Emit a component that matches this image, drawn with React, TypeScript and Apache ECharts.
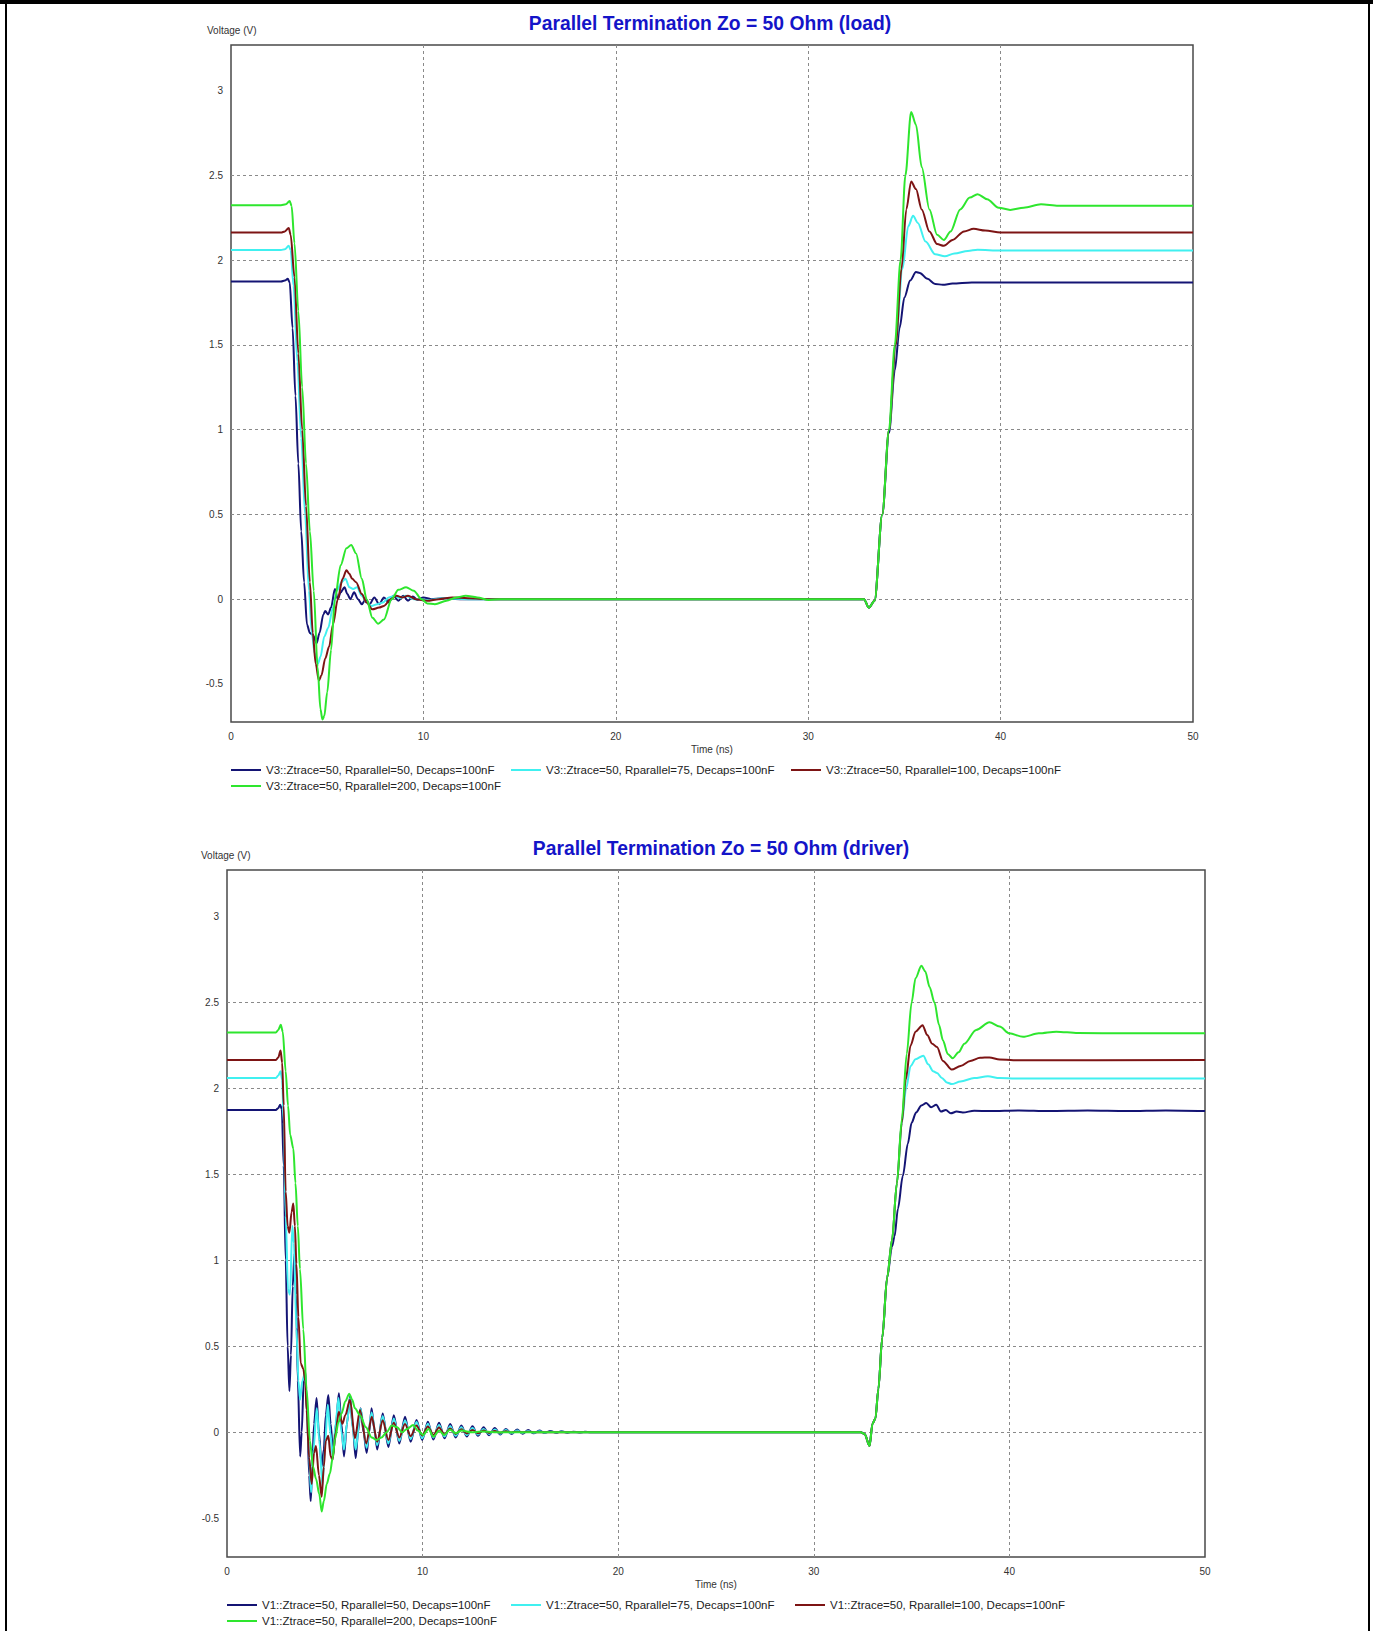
import { useEffect, useRef } from "react";
import * as echarts from "echarts";

// ---------- labels ----------
const TITLE_LOAD = "Parallel Termination Zo = 50 Ohm (load)";
const TITLE_DRIVER = "Parallel Termination Zo = 50 Ohm (driver)";
const Y_NAME = "Voltage (V)";
const X_NAME = "Time (ns)";
const Y_TICKS = [-0.5, 0, 0.5, 1, 1.5, 2, 2.5, 3];
const X_MIN = 0;
const X_MAX = 50;
const X_STEP = 10;
const Y_MIN = -0.725;
const Y_MAX = 3.27;

const LOAD_NAMES = [
  "V3::Ztrace=50, Rparallel=50, Decaps=100nF",
  "V3::Ztrace=50, Rparallel=75, Decaps=100nF",
  "V3::Ztrace=50, Rparallel=100, Decaps=100nF",
  "V3::Ztrace=50, Rparallel=200, Decaps=100nF",
];
const DRIVER_NAMES = [
  "V1::Ztrace=50, Rparallel=50, Decaps=100nF",
  "V1::Ztrace=50, Rparallel=75, Decaps=100nF",
  "V1::Ztrace=50, Rparallel=100, Decaps=100nF",
  "V1::Ztrace=50, Rparallel=200, Decaps=100nF",
];

// ---------- data: [time ns, volts] ----------
const LOAD_R50: [number, number][] = [
  [0, 1.874], [2.6, 1.874], [2.8, 1.88], [2.95, 1.89], [3.05, 1.87], [3.2, 1.6], [3.35, 1.2], [3.5, 0.8],
  [3.65, 0.4], [3.8, 0.1], [3.95, -0.15], [4.1, -0.2], [4.25, -0.21], [4.45, -0.26], [4.6, -0.2], [4.8, -0.09],
  [4.9, -0.07], [5.05, -0.09], [5.2, -0.05], [5.4, 0.06], [5.55, 0.0], [5.7, 0.04], [5.9, 0.07], [6.05, 0.03],
  [6.2, 0.0], [6.4, 0.04], [6.6, 0.0], [6.8, -0.03], [7.0, 0.0], [7.2, -0.03], [7.45, 0.01], [7.7, -0.03],
  [7.95, 0.01], [8.2, -0.02], [8.45, 0.02], [8.7, -0.01], [8.95, 0.02], [9.2, -0.01], [9.45, 0.015], [9.7, -0.005],
  [10.0, 0.01], [10.4, 0.0], [11.0, 0.005], [12.0, 0.0], [32.9, 0.0], [33.15, -0.05], [33.45, -0.01], [33.85, 0.5],
  [34.2, 0.98], [34.5, 1.35], [34.75, 1.6], [35.0, 1.78], [35.3, 1.88], [35.6, 1.93], [35.8, 1.925], [36.2, 1.89],
  [36.6, 1.86], [37.0, 1.855], [37.5, 1.862], [38.5, 1.868], [50, 1.868],
];
const LOAD_R75: [number, number][] = [
  [0, 2.06], [2.6, 2.06], [2.8, 2.065], [3.0, 2.085], [3.1, 2.06], [3.25, 1.85], [3.45, 1.4], [3.65, 0.95],
  [3.85, 0.5], [4.05, 0.05], [4.2, -0.2], [4.35, -0.32], [4.52, -0.38], [4.65, -0.34], [4.85, -0.22], [5.05, -0.17],
  [5.3, -0.05], [5.5, 0.05], [5.75, 0.1], [5.95, 0.12], [6.15, 0.07], [6.35, 0.06], [6.55, 0.07], [6.8, 0.02],
  [7.05, -0.02], [7.3, -0.04], [7.6, -0.03], [7.9, -0.02], [8.2, 0.01], [8.5, 0.02], [8.8, 0.005], [9.1, 0.02],
  [9.5, 0.0], [10.2, -0.005], [11.0, 0.005], [12.5, 0.0], [32.9, 0.0], [33.15, -0.05], [33.45, -0.01], [33.85, 0.5],
  [34.2, 1.0], [34.55, 1.5], [34.9, 1.95], [35.2, 2.2], [35.45, 2.262], [35.7, 2.22], [36.1, 2.11], [36.6, 2.035],
  [37.1, 2.023], [37.6, 2.04], [38.3, 2.055], [38.8, 2.062], [40.0, 2.057], [50, 2.057],
];
const LOAD_R100: [number, number][] = [
  [0, 2.163], [2.6, 2.163], [2.8, 2.17], [3.0, 2.19], [3.1, 2.15], [3.3, 1.9], [3.5, 1.45], [3.7, 1.0],
  [3.9, 0.55], [4.1, 0.1], [4.25, -0.2], [4.4, -0.38], [4.57, -0.48], [4.7, -0.45], [4.9, -0.35], [5.1, -0.28],
  [5.3, -0.15], [5.55, 0.0], [5.8, 0.12], [6.0, 0.17], [6.15, 0.15], [6.3, 0.12], [6.5, 0.1], [6.8, 0.03],
  [7.05, -0.02], [7.35, -0.06], [7.7, -0.05], [7.95, -0.04], [8.3, 0.0], [8.6, 0.02], [8.9, 0.01], [9.2, 0.02],
  [9.6, 0.0], [10.2, -0.01], [10.8, 0.0], [11.5, 0.01], [12.3, 0.005], [13.5, 0.0], [32.9, 0.0], [33.15, -0.05],
  [33.45, -0.01], [33.85, 0.5], [34.2, 1.0], [34.55, 1.5], [34.85, 1.95], [35.1, 2.3], [35.35, 2.465], [35.6, 2.42],
  [35.9, 2.3], [36.3, 2.17], [36.7, 2.095], [37.05, 2.085], [37.5, 2.12], [38.1, 2.17], [38.6, 2.185], [39.2, 2.175],
  [40.0, 2.163], [50, 2.163],
];
const LOAD_R200: [number, number][] = [
  [0, 2.325], [2.6, 2.325], [2.85, 2.33], [3.05, 2.35], [3.15, 2.32], [3.3, 2.1], [3.5, 1.7], [3.7, 1.25],
  [3.9, 0.8], [4.1, 0.4], [4.3, 0.05], [4.5, -0.4], [4.65, -0.65], [4.75, -0.71], [4.85, -0.69], [5.0, -0.55],
  [5.2, -0.3], [5.4, 0.0], [5.7, 0.2], [6.0, 0.3], [6.25, 0.32], [6.5, 0.27], [6.8, 0.12], [7.05, 0.0],
  [7.35, -0.11], [7.65, -0.145], [7.95, -0.12], [8.35, 0.0], [8.7, 0.055], [9.1, 0.07], [9.5, 0.05], [9.9, 0.0],
  [10.2, -0.025], [10.6, -0.03], [11.2, -0.01], [11.7, 0.01], [12.2, 0.02], [12.8, 0.01], [13.4, -0.005], [14.0, 0.0],
  [32.9, 0.0], [33.15, -0.05], [33.45, -0.01], [33.85, 0.5], [34.2, 1.0], [34.5, 1.5], [34.8, 2.0], [35.05, 2.5],
  [35.35, 2.875], [35.6, 2.8], [35.9, 2.55], [36.3, 2.3], [36.7, 2.15], [37.05, 2.12], [37.4, 2.17], [37.9, 2.3],
  [38.4, 2.37], [38.8, 2.39], [39.3, 2.36], [39.9, 2.31], [40.5, 2.297], [41.2, 2.31], [42.1, 2.33], [43.0, 2.322],
  [50, 2.322],
];

const DRIVER_R50: [number, number][] = [
  [0, 1.875], [2.5, 1.875], [2.62, 1.885], [2.72, 1.905], [2.8, 1.88], [2.9, 1.55], [3.0, 1.0], [3.1, 0.5],
  [3.19, 0.24], [3.27, 0.45], [3.36, 0.85], [3.45, 1.04], [3.53, 0.8], [3.62, 0.3], [3.74, -0.14], [3.82, 0.0],
  [3.92, 0.3], [4.0, 0.36], [4.1, 0.1], [4.2, -0.25], [4.28, -0.4], [4.36, -0.2], [4.45, 0.05], [4.58, 0.2],
  [4.7, 0.0], [4.84, -0.2], [4.95, -0.1], [5.05, 0.1], [5.18, 0.217], [5.3, 0.05], [5.43, -0.13], [5.57, 0.05],
  [5.72, 0.227], [5.85, 0.05], [5.98, -0.14], [6.13, 0.05], [6.29, 0.21], [6.43, 0.03], [6.58, -0.15], [6.7, 0.0],
  [6.83, 0.14], [6.98, 0.0], [7.14, -0.12], [7.27, 0.0], [7.39, 0.14], [7.53, 0.02], [7.68, -0.1], [7.96, 0.11],
  [8.25, -0.085], [8.53, 0.1], [8.81, -0.065], [9.1, 0.09], [9.39, -0.055], [9.69, 0.072], [9.98, -0.045], [10.27, 0.062],
  [10.55, -0.042], [10.84, 0.055], [11.12, -0.035], [11.41, 0.048], [11.69, -0.03], [11.98, 0.04], [12.26, -0.025], [12.55, 0.035],
  [12.83, -0.02], [13.12, 0.03], [13.4, -0.017], [13.69, 0.025], [13.97, -0.013], [14.26, 0.02], [14.54, -0.01], [14.83, 0.016],
  [15.11, -0.008], [15.4, 0.013], [15.68, -0.006], [15.97, 0.01], [16.25, -0.004], [16.54, 0.008], [16.82, -0.003], [17.1, 0.006],
  [17.4, -0.002], [17.7, 0.004], [18.0, -0.001], [18.3, 0.003], [18.6, 0.0], [32.4, 0.0], [32.6, -0.01], [32.85, -0.08],
  [33.0, 0.05], [33.15, 0.08], [33.3, 0.25], [33.5, 0.55], [33.75, 0.9], [34.0, 1.08], [34.13, 1.14], [34.3, 1.3],
  [34.55, 1.49], [34.81, 1.68], [35.0, 1.8], [35.23, 1.86], [35.5, 1.9], [35.75, 1.915], [36.0, 1.89], [36.26, 1.905],
  [36.5, 1.865], [36.75, 1.875], [37.0, 1.855], [37.3, 1.865], [37.62, 1.86], [38.2, 1.87], [39.0, 1.868], [40.5, 1.872],
  [42.0, 1.868], [44.0, 1.871], [46.0, 1.868], [48.0, 1.872], [50, 1.869],
];
const DRIVER_R75: [number, number][] = [
  [0, 2.06], [2.5, 2.06], [2.62, 2.075], [2.74, 2.1], [2.82, 2.05], [2.9, 1.8], [3.0, 1.26], [3.12, 0.83],
  [3.22, 0.8], [3.34, 1.2], [3.42, 1.1], [3.55, 0.6], [3.65, 0.3], [3.74, 0.19], [3.85, 0.3], [4.0, 0.35],
  [4.1, 0.1], [4.2, -0.15], [4.3, -0.35], [4.42, -0.1], [4.59, 0.14], [4.72, -0.05], [4.88, -0.31], [5.0, -0.1],
  [5.15, 0.16], [5.28, 0.0], [5.41, -0.15], [5.55, 0.05], [5.7, 0.2], [5.85, 0.0], [5.98, -0.1], [6.13, 0.05],
  [6.29, 0.2], [6.43, 0.02], [6.58, -0.1], [6.83, 0.135], [7.14, -0.09], [7.39, 0.115], [7.68, -0.075], [7.96, 0.095],
  [8.25, -0.065], [8.53, 0.08], [8.81, -0.05], [9.1, 0.07], [9.39, -0.04], [9.69, 0.06], [9.98, -0.035], [10.27, 0.05],
  [10.55, -0.03], [10.84, 0.042], [11.12, -0.025], [11.41, 0.035], [11.69, -0.02], [11.98, 0.03], [12.26, -0.016], [12.55, 0.025],
  [12.83, -0.013], [13.12, 0.02], [13.4, -0.01], [13.69, 0.016], [13.97, -0.008], [14.26, 0.013], [14.54, -0.006], [14.83, 0.01],
  [15.11, -0.004], [15.4, 0.008], [15.68, -0.003], [15.97, 0.006], [16.25, -0.002], [16.54, 0.004], [16.82, 0.0], [17.1, 0.003],
  [17.4, 0.0], [32.4, 0.0], [32.6, -0.01], [32.85, -0.08], [33.0, 0.05], [33.15, 0.08], [33.3, 0.25], [33.5, 0.55],
  [33.75, 0.9], [34.0, 1.12], [34.25, 1.45], [34.5, 1.8], [34.72, 2.0], [34.95, 2.13], [35.2, 2.17], [35.6, 2.19],
  [35.85, 2.14], [36.1, 2.1], [36.3, 2.09], [36.55, 2.06], [36.8, 2.035], [37.05, 2.025], [37.5, 2.04], [38.2, 2.06],
  [38.9, 2.07], [39.5, 2.06], [40.3, 2.058], [50, 2.058],
];
const DRIVER_R100: [number, number][] = [
  [0, 2.165], [2.5, 2.165], [2.62, 2.18], [2.74, 2.22], [2.82, 2.15], [2.9, 1.9], [3.0, 1.4], [3.1, 1.2],
  [3.19, 1.16], [3.3, 1.28], [3.39, 1.33], [3.47, 1.2], [3.55, 0.98], [3.65, 0.67], [3.77, 0.4], [3.9, 0.37],
  [4.0, 0.3], [4.07, 0.13], [4.2, -0.15], [4.33, -0.3], [4.45, -0.12], [4.55, -0.08], [4.7, -0.25], [4.84, -0.375],
  [4.95, -0.2], [5.05, -0.05], [5.18, -0.02], [5.3, -0.14], [5.4, -0.16], [5.55, 0.0], [5.72, 0.12], [5.9, 0.05],
  [6.05, 0.1], [6.29, 0.19], [6.54, -0.035], [6.8, 0.13], [7.12, -0.065], [7.4, 0.09], [7.68, -0.055], [7.96, 0.07],
  [8.25, -0.045], [8.53, 0.055], [8.81, -0.03], [9.1, 0.048], [9.39, -0.022], [9.69, 0.04], [9.98, -0.018], [10.27, 0.034],
  [10.55, -0.015], [10.84, 0.028], [11.12, -0.012], [11.41, 0.022], [11.69, -0.01], [11.98, 0.018], [12.26, -0.007], [12.55, 0.014],
  [12.83, -0.005], [13.12, 0.011], [13.4, -0.004], [13.69, 0.008], [13.97, -0.002], [14.26, 0.006], [14.54, -0.001], [14.83, 0.004],
  [15.11, 0.0], [15.4, 0.003], [15.7, 0.0], [32.4, 0.0], [32.6, -0.01], [32.85, -0.08], [33.0, 0.05], [33.15, 0.08],
  [33.3, 0.25], [33.5, 0.55], [33.75, 0.9], [34.0, 1.12], [34.25, 1.45], [34.5, 1.8], [34.7, 2.05], [34.95, 2.25],
  [35.2, 2.33], [35.56, 2.367], [35.8, 2.31], [36.05, 2.26], [36.3, 2.24], [36.6, 2.16], [37.05, 2.11], [37.5, 2.13],
  [38.0, 2.16], [38.5, 2.178], [38.98, 2.18], [39.5, 2.168], [40.2, 2.164], [50, 2.165],
];
const DRIVER_R200: [number, number][] = [
  [0, 2.325], [2.5, 2.325], [2.62, 2.34], [2.75, 2.37], [2.85, 2.33], [3.0, 2.1], [3.12, 1.9], [3.23, 1.73],
  [3.39, 1.65], [3.5, 1.45], [3.62, 1.2], [3.73, 0.95], [3.9, 0.6], [4.07, 0.25], [4.24, -0.05], [4.4, -0.2],
  [4.55, -0.27], [4.72, -0.36], [4.84, -0.46], [4.95, -0.4], [5.1, -0.3], [5.26, -0.24], [5.4, -0.15], [5.52, -0.04],
  [5.7, 0.06], [5.86, 0.11], [6.05, 0.18], [6.25, 0.225], [6.4, 0.19], [6.54, 0.14], [6.8, 0.1], [7.1, 0.03],
  [7.4, -0.03], [7.65, -0.045], [7.9, -0.03], [8.16, 0.0], [8.42, 0.04], [8.7, 0.03], [8.95, 0.0], [9.2, 0.02],
  [9.52, 0.043], [9.75, 0.01], [10.03, -0.015], [10.3, 0.02], [10.55, -0.025], [10.85, 0.01], [11.1, -0.015], [11.4, 0.015],
  [11.7, -0.005], [12.0, 0.01], [12.5, 0.0], [13.0, 0.005], [14.0, 0.0], [32.4, 0.0], [32.6, -0.01], [32.85, -0.08],
  [33.0, 0.05], [33.15, 0.08], [33.3, 0.25], [33.5, 0.55], [33.75, 0.9], [34.0, 1.12], [34.25, 1.45], [34.5, 1.82],
  [34.75, 2.2], [35.0, 2.5], [35.2, 2.64], [35.5, 2.713], [35.7, 2.68], [35.92, 2.59], [36.17, 2.5], [36.4, 2.37],
  [36.6, 2.28], [36.85, 2.2], [37.1, 2.175], [37.4, 2.21], [37.7, 2.26], [38.3, 2.34], [38.98, 2.384], [39.5, 2.36],
  [40.0, 2.32], [40.7, 2.3], [41.5, 2.32], [42.4, 2.33], [43.5, 2.322], [46.0, 2.32], [50, 2.32],
];

const LOAD_DATA = [LOAD_R50, LOAD_R75, LOAD_R100, LOAD_R200];
const DRIVER_DATA = [DRIVER_R50, DRIVER_R75, DRIVER_R100, DRIVER_R200];

// ---------- styling ----------
const COLORS = ["#141474", "#40f0f0", "#7d1414", "#2ee62e"];
const FONT = "'Liberation Sans', Arial, sans-serif";
const W = 1373;
const H = 1631;

const GRIDS = [
  { left: 231, top: 45, width: 962, height: 677 },
  { left: 227, top: 870, width: 978, height: 687 },
];
const LEGEND_POS = [
  [[231, 764], [511, 764], [791, 764], [231, 780]],
  [[227, 1599], [511, 1599], [795, 1599], [227, 1615]],
];

export default function App() {
  const ref = useRef<HTMLDivElement>(null);

  useEffect(() => {
    document.body.style.margin = "0";
    document.body.style.overflow = "hidden";
    if (!ref.current) return;
    const chart = echarts.init(ref.current, undefined, { renderer: "svg" });

    const gridLine = { show: true, showMinLine: false, showMaxLine: false, lineStyle: { type: [3, 3] as any, color: "#8a8a8a", width: 1 } };

    const xAxes = GRIDS.map((_, i) => ({
      gridIndex: i,
      type: "value",
      min: X_MIN,
      max: X_MAX,
      interval: X_STEP,
      axisLine: { show: false },
      axisTick: { show: false },
      axisLabel: { margin: 9, fontSize: 10, color: "#333", fontFamily: FONT },
      splitLine: gridLine,
      name: X_NAME,
      nameLocation: "middle",
      nameGap: 22,
      nameTextStyle: { fontSize: 10, color: "#333", fontFamily: FONT },
    }));
    const yAxes = GRIDS.map((_, i) => ({
      gridIndex: i,
      type: "value",
      min: Y_MIN,
      max: Y_MAX,
      axisLine: { show: false },
      axisTick: { show: false, customValues: Y_TICKS },
      axisLabel: { margin: 8, fontSize: 10, color: "#333", fontFamily: FONT, customValues: Y_TICKS },
      splitLine: gridLine,
    }));

    const names = [LOAD_NAMES, DRIVER_NAMES];
    const datas = [LOAD_DATA, DRIVER_DATA];
    const series: any[] = [];
    const legends: any[] = [];
    for (let g = 0; g < 2; g++) {
      for (let k = 0; k < 4; k++) {
        series.push({
          type: "line",
          name: names[g][k],
          xAxisIndex: g,
          yAxisIndex: g,
          data: datas[g][k],
          showSymbol: false,
          smooth: 0.3,
          smoothMonotone: "x",
          lineStyle: { color: COLORS[k], width: 2 },
          itemStyle: { color: COLORS[k] },
          emphasis: { disabled: true },
        });
        legends.push({
          data: [names[g][k]],
          left: LEGEND_POS[g][k][0],
          top: LEGEND_POS[g][k][1],
          padding: 0,
          icon: "rect",
          itemWidth: 30,
          itemHeight: 2,
          selectedMode: false,
          textStyle: { fontSize: 11.5, color: "#222", fontFamily: FONT },
        });
      }
    }

    const titleStyle = { font: `bold 19.3px ${FONT}`, fill: "#1414c8", textAlign: "center", textVerticalAlign: "middle" };
    const yNameStyle = { font: `10px ${FONT}`, fill: "#333", textAlign: "left", textVerticalAlign: "middle" };

    chart.setOption({
      animation: false,
      backgroundColor: "#fff",
      grid: GRIDS.map((g) => ({ ...g, show: true, backgroundColor: "#fff", borderColor: "#4a4a4a", borderWidth: 1.5, containLabel: false })),
      xAxis: xAxes,
      yAxis: yAxes,
      legend: legends,
      series,
      graphic: [
        { type: "text", x: 710, y: 23, style: { ...titleStyle, text: TITLE_LOAD } },
        { type: "text", x: 721, y: 848, style: { ...titleStyle, text: TITLE_DRIVER } },
        { type: "text", x: 207, y: 30, style: { ...yNameStyle, text: Y_NAME } },
        { type: "text", x: 201, y: 855, style: { ...yNameStyle, text: Y_NAME } },
        { type: "line", shape: { x1: 6, y1: 0, x2: 6, y2: H }, style: { stroke: "#000", lineWidth: 2 } },
        { type: "line", shape: { x1: 0, y1: 2, x2: W, y2: 2 }, style: { stroke: "#000", lineWidth: 4 } },
        { type: "line", shape: { x1: 1369, y1: 0, x2: 1369, y2: H }, style: { stroke: "#000", lineWidth: 2 } },
      ],
    });

    return () => chart.dispose();
  }, []);

  return <div ref={ref} style={{ position: "absolute", left: 0, top: 0, width: W, height: H }} />;
}
